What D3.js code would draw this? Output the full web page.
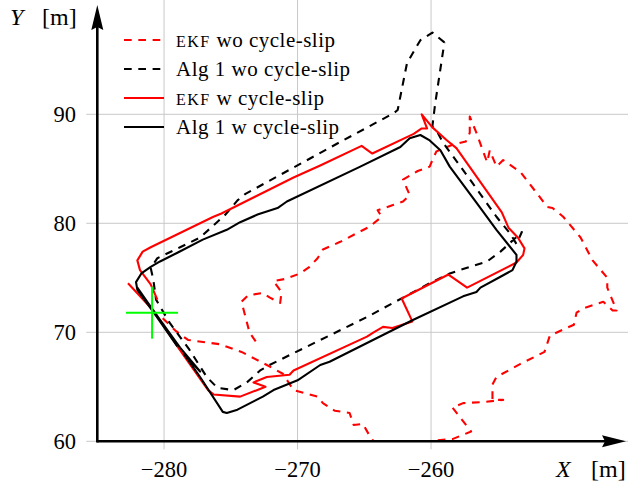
<!DOCTYPE html>
<html lang="en">
<head>
  <meta charset="utf-8">
  <title>Trajectories with and without cycle-slip</title>
  <script type="text/javascript" src="https://d3js.org/d3.v7.min.js"></script>
</head>
<style>
body {
  margin: 0;
  background: #fff;
}
text {
  font-family: "Liberation Serif", "DejaVu Serif", serif;
  fill: #000;
}
</style>
<body>
  <script type="text/javascript">
  var w = 628;
  var h = 487;

  // EKF without cycle-slip (red dashed); null splits the part that runs below the axis
  var ekfWo = [
    [-280.1, 71.3], [-279.1, 70.1], [-278.2, 69.3], [-275.8, 68.9], [-274.2, 68.2],
    [-272.3, 67.0], [-271.1, 66.2], [-270.3, 64.7], [-268.5, 64.1], [-268.1, 63.5],
    [-267.2, 62.8], [-266.1, 62.6], [-265.8, 61.5], [-265.1, 61.6], [-264.6, 60.5],
    [-264.3, 60.0],
    null,
    [-259.5, 60.1], [-258.4, 60.2], [-257.0, 60.9], [-258.4, 63.1], [-257.6, 63.5],
    [-256.1, 63.6], [-254.6, 63.8], [-255.4, 63.8], [-255.4, 65.2], [-255.1, 65.9],
    [-253.3, 67.1], [-251.5, 68.2], [-251.1, 69.7], [-249.3, 70.7], [-249.1, 71.8],
    [-248.6, 72.2], [-247.1, 72.8], [-246.4, 72.0], [-246.1, 72.0], [-246.8, 74.1],
    [-246.8, 75.0], [-247.9, 76.6], [-248.8, 78.7], [-250.1, 80.6], [-250.9, 81.4],
    [-251.3, 81.5], [-252.1, 82.8], [-253.3, 84.7], [-254.6, 85.8], [-255.1, 85.2],
    [-255.6, 86.7], [-255.8, 85.6], [-256.6, 88.3], [-257.1, 89.8], [-257.1, 88.3],
    [-257.4, 87.5], [-258.4, 87.2], [-258.8, 87.0], [-259.6, 86.6], [-259.9, 85.8],
    [-260.1, 85.2], [-261.0, 84.8], [-262.1, 84.0], [-261.6, 82.6], [-262.1, 82.0],
    [-262.8, 81.7], [-264.0, 81.2], [-263.7, 80.6], [-264.6, 79.7], [-266.8, 78.3],
    [-268.1, 77.6], [-268.5, 76.8], [-269.1, 76.0], [-269.8, 75.4], [-270.9, 74.9],
    [-271.8, 74.7], [-271.2, 73.7], [-271.3, 72.7], [-272.1, 73.2], [-272.6, 73.6],
    [-273.7, 73.4], [-274.2, 72.8], [-273.6, 70.0], [-273.1, 69.1]
  ];

  // Algorithm 1 without cycle-slip (black dashed)
  var alg1Wo = [
    [-259.0, 96.6], [-259.9, 97.5], [-260.8, 96.8], [-261.8, 94.7], [-262.5, 90.4],
    [-262.8, 90.1], [-266.6, 87.6], [-273.9, 82.7], [-274.5, 82.1], [-275.4, 80.8],
    [-277.3, 78.7], [-278.8, 77.8], [-280.5, 76.8], [-281.0, 75.9], [-280.8, 74.8],
    [-280.6, 73.0], [-279.6, 70.9], [-278.1, 68.4], [-276.8, 65.9], [-276.0, 64.9],
    [-274.8, 64.7], [-273.8, 65.4], [-272.8, 66.5], [-272.1, 67.0], [-264.8, 71.4],
    [-260.1, 74.5], [-258.6, 75.4], [-257.1, 76.0], [-255.8, 76.5], [-254.8, 77.4],
    [-253.2, 79.2], [-253.6, 78.1], [-254.1, 79.1], [-255.1, 80.6], [-256.9, 83.7],
    [-259.1, 87.4], [-259.5, 88.3], [-259.9, 88.9], [-259.7, 90.9], [-259.0, 96.6]
  ];

  // EKF with cycle-slip (red solid)
  var ekfW = [
    [-282.7, 74.5], [-280.8, 72.0], [-279.0, 68.7], [-276.7, 64.7], [-276.3, 64.3],
    [-274.3, 64.1], [-272.4, 65.0], [-273.3, 65.4], [-272.3, 65.9], [-270.6, 66.1],
    [-270.3, 66.5], [-264.8, 69.6], [-264.3, 70.0], [-263.6, 70.5], [-262.9, 70.4],
    [-261.4, 71.0], [-262.2, 73.1], [-258.7, 75.3], [-257.3, 74.1], [-253.6, 76.4],
    [-253.1, 77.1], [-253.0, 77.7], [-253.5, 78.7], [-254.2, 79.6], [-254.7, 81.0],
    [-258.1, 86.9], [-258.8, 87.6], [-259.9, 88.8], [-260.7, 90.0], [-260.3, 88.7],
    [-260.7, 88.7], [-261.3, 88.2], [-264.4, 86.4], [-265.2, 87.1], [-268.3, 85.3],
    [-270.3, 84.2], [-275.7, 80.9], [-276.3, 80.6], [-281.0, 77.8], [-281.6, 77.4],
    [-282.0, 76.6], [-281.8, 75.7], [-281.0, 74.4], [-280.5, 73.0]
  ];

  // Algorithm 1 with cycle-slip (black solid)
  var alg1W = [
    [-282.0, 74.1], [-280.8, 72.0], [-278.8, 68.6], [-277.3, 66.4], [-278.5, 68.0],
    [-277.3, 65.9], [-275.6, 62.7], [-275.3, 62.6], [-274.5, 62.9], [-272.6, 64.1],
    [-271.8, 64.7], [-270.0, 65.6], [-268.3, 67.0], [-267.6, 67.3], [-261.4, 71.1],
    [-257.6, 73.3], [-256.6, 73.7], [-256.3, 74.1], [-254.8, 75.1], [-253.9, 75.7],
    [-253.6, 76.5], [-253.6, 77.1], [-255.1, 79.4], [-256.6, 81.9], [-258.6, 85.2],
    [-259.3, 86.7], [-260.1, 87.6], [-260.8, 88.1], [-261.6, 87.8], [-262.3, 87.0],
    [-265.3, 85.2], [-270.8, 82.0], [-271.5, 81.4], [-273.0, 80.8], [-274.3, 80.1],
    [-275.3, 79.4], [-277.1, 78.5], [-279.0, 77.3], [-280.3, 76.5], [-281.0, 76.0],
    [-281.7, 75.4], [-282.1, 74.6], [-282.0, 73.9], [-280.7, 71.7], [-279.0, 68.7]
  ];

  var startPoint = [-280.9, 71.8];

  var xTicks = [-280, -270, -260];
  var yTicks = [60, 70, 80, 90];

  var legendLabels = [
    {sc: "ekf", rest: " wo cycle-slip"},
    {sc: "", rest: "Alg 1 wo cycle-slip"},
    {sc: "ekf", rest: " w cycle-slip"},
    {sc: "", rest: "Alg 1 w cycle-slip"}
  ];
  var seriesColors = ["#ff0000", "#000000", "#ff0000", "#000000"];
  var seriesDash = ["7.7,6.6", "7.7,6.6", null, null];

  var x = d3.scaleLinear().domain([-285, -245]).range([97.3, 631.3]);
  var y = d3.scaleLinear().domain([60, 100]).range([441.3, 5.3]);

  var svg = d3.select("body")
    .append("svg")
    .attr("width", w)
    .attr("height", h);

  // grid
  svg.append("g")
    .selectAll("line")
    .data(xTicks)
    .enter()
    .append("line")
    .attr("x1", function(d) { return x(d); })
    .attr("x2", function(d) { return x(d); })
    .attr("y1", 0)
    .attr("y2", y(60) + 8)
    .attr("stroke", "#c8c8c8")
    .attr("stroke-width", 1);

  svg.append("g")
    .selectAll("line")
    .data(yTicks)
    .enter()
    .append("line")
    .attr("x1", x(-285) - 11)
    .attr("x2", w)
    .attr("y1", function(d) { return y(d); })
    .attr("y2", function(d) { return y(d); })
    .attr("stroke", "#c8c8c8")
    .attr("stroke-width", 1);

  // tick labels
  svg.append("g")
    .selectAll("text")
    .data(xTicks)
    .enter()
    .append("text")
    .attr("x", function(d) { return x(d); })
    .attr("y", y(60) + 35.5)
    .attr("text-anchor", "middle")
    .style("font-size", "22.5px")
    .text(function(d) { return "\u2212" + Math.abs(d); });

  svg.append("g")
    .selectAll("text")
    .data(yTicks)
    .enter()
    .append("text")
    .attr("x", 76)
    .attr("y", function(d) { return y(d) + 8; })
    .attr("text-anchor", "end")
    .style("font-size", "22.5px")
    .text(function(d) { return d; });

  // trajectories
  var line = d3.line()
    .defined(function(d) { return d !== null; })
    .x(function(d) { return x(d[0]); })
    .y(function(d) { return y(d[1]); });

  [ekfWo, alg1Wo, ekfW, alg1W].forEach(function(s, i) {
    svg.append("path")
      .datum(s)
      .attr("d", line)
      .attr("fill", "none")
      .attr("stroke", seriesColors[i])
      .attr("stroke-width", 2.1)
      .attr("stroke-linejoin", "round")
      .attr("stroke-dasharray", seriesDash[i]);
  });

  // start marker
  var cx = x(startPoint[0]), cy = y(startPoint[1]);
  svg.append("line")
    .attr("x1", cx - 26).attr("x2", cx + 26)
    .attr("y1", cy).attr("y2", cy)
    .attr("stroke", "#00ff00").attr("stroke-width", 2);
  svg.append("line")
    .attr("x1", cx).attr("x2", cx)
    .attr("y1", cy - 26).attr("y2", cy + 26)
    .attr("stroke", "#00ff00").attr("stroke-width", 2);

  // axes with arrows
  var ax0 = x(-285), ay0 = y(60);
  svg.append("line")
    .attr("x1", ax0).attr("x2", 612)
    .attr("y1", ay0).attr("y2", ay0)
    .attr("stroke", "#000").attr("stroke-width", 2.6);
  svg.append("path")
    .attr("d", "M626," + ay0 + " L602," + (ay0 - 6) + " L605," + ay0 + " L602," + (ay0 + 6) + "Z")
    .attr("fill", "#000");
  svg.append("line")
    .attr("x1", ax0).attr("x2", ax0)
    .attr("y1", ay0 + 1.3).attr("y2", 20)
    .attr("stroke", "#000").attr("stroke-width", 2.6);
  svg.append("path")
    .attr("d", "M" + ax0 + ",5 L" + (ax0 - 6) + ",30 L" + ax0 + ",27 L" + (ax0 + 6) + ",30Z")
    .attr("fill", "#000");

  // axis labels
  var xl = svg.append("text").attr("y", 477).style("font-size", "24px");
  xl.append("tspan").attr("x", 556).style("font-style", "italic").text("X");
  xl.append("tspan").attr("x", 591).text("[m]");
  var yl = svg.append("text").attr("y", 25).style("font-size", "24px");
  yl.append("tspan").attr("x", 10).style("font-style", "italic").text("Y");
  yl.append("tspan").attr("x", 42).text("[m]");

  // legend
  var leg = svg.append("g")
    .selectAll("g")
    .data(legendLabels)
    .enter()
    .append("g")
    .attr("transform", function(d, i) { return "translate(0," + (40 + i * 29) + ")"; });

  leg.append("line")
    .attr("x1", 124).attr("x2", 164)
    .attr("y1", 0).attr("y2", 0)
    .attr("stroke", function(d, i) { return seriesColors[i]; })
    .attr("stroke-width", 2.1)
    .attr("stroke-dasharray", function(d, i) { return seriesDash[i]; });

  var lt = leg.append("text")
    .attr("x", 176)
    .attr("y", 7)
    .style("font-size", "21px")
    .style("letter-spacing", "0.5px");
  lt.append("tspan")
    .style("font-size", "16px")
    .style("letter-spacing", "1.5px")
    .text(function(d) { return d.sc.toUpperCase(); });
  lt.append("tspan")
    .text(function(d) { return d.rest; });

  </script>
</body>
</html>
